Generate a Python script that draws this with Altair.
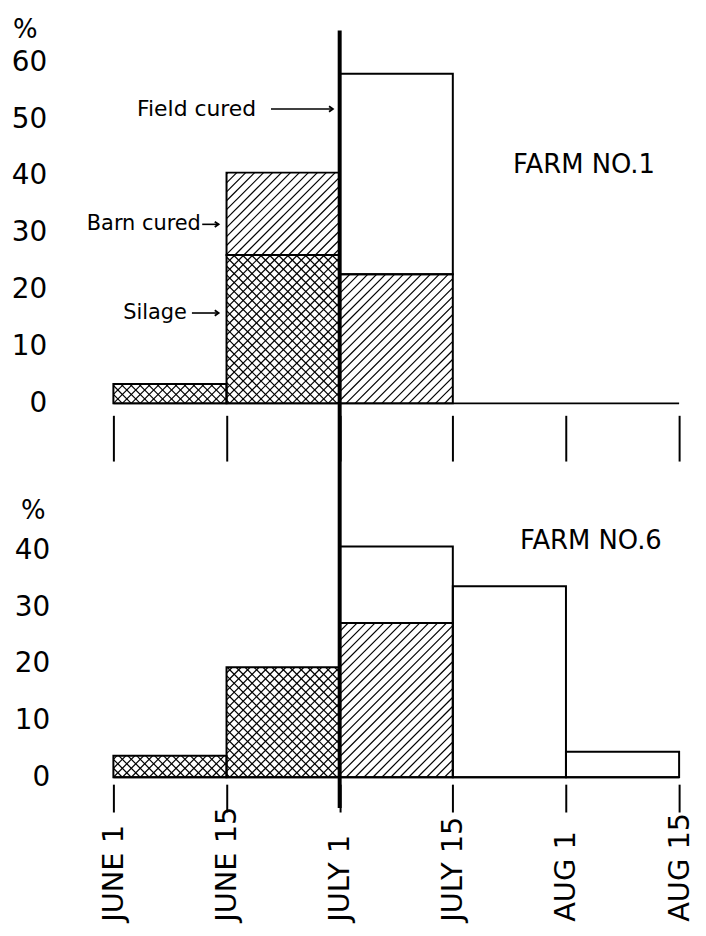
import json
import numpy as np
import pandas as pd
import altair as alt

# ---------------- data ----------------
tick_labels = ["JUNE 1", "JUNE 15", "JULY 1", "JULY 15", "AUG 1", "AUG 15"]
period_start = [0, 1, 2, 3, 4]          # tick index where each half-month period begins
categories = ["Silage", "Barn cured", "Field cured"]

farm1_silage = [3.4, 26.1, 0, 0, 0]
farm1_barn = [0, 14.5, 22.7, 0, 0]
farm1_field = [0, 0, 35.3, 0, 0]

farm6_silage = [3.8, 19.4, 0, 0, 0]
farm6_barn = [0, 0, 27.2, 0, 0]
farm6_field = [0, 0, 13.5, 33.7, 4.5]

farm_titles = ["FARM NO.1", "FARM NO.6"]

# ---------------- layout / style ----------------
W = 569
H1, H6 = 343, 228
YMAX1, YMAX6 = 60, 40
XMAX = len(tick_labels) - 1
FONT = "DejaVu Sans"
JULY1 = tick_labels.index("JULY 1")


def segments(sil, barn, field):
    rows = []
    for i, s in enumerate(period_start):
        lo = 0.0
        for cat, vals in zip(categories, [sil, barn, field]):
            v = vals[i]
            if v > 0:
                rows.append(dict(x0=s, x1=s + 1, lo=lo, hi=lo + v, cat=cat))
                lo += v
    return pd.DataFrame(rows)


def hatch(seg, ymax, h, spacing=9.0):
    """Hatch lines (fill pattern) for the silage (cross) and barn-cured (diagonal) blocks."""
    sx = W / XMAX
    sy = h / ymax
    rows = []
    for r in seg.itertuples():
        X0, X1 = r.x0 * sx, r.x1 * sx
        Y0, Y1 = r.lo * sy, r.hi * sy
        if r.cat == "Silage":
            dirs = [1, -1]
        elif r.cat == "Barn cured":
            dirs = [1]
        else:
            dirs = []
        for d in dirs:
            if d == 1:  # y = x + c
                cmin, cmax = Y0 - X1, Y1 - X0
                c = np.ceil(cmin / spacing) * spacing
                while c <= cmax:
                    xa = max(X0, Y0 - c)
                    xb = min(X1, Y1 - c)
                    if xb - xa > 0.7:
                        rows.append(dict(hx0=xa / sx, hy0=(xa + c) / sy,
                                         hx1=xb / sx, hy1=(xb + c) / sy))
                    c += spacing
            else:  # y = -x + c
                cmin, cmax = X0 + Y0, X1 + Y1
                c = np.ceil(cmin / spacing) * spacing
                while c <= cmax:
                    xa = max(X0, c - Y1)
                    xb = min(X1, c - Y0)
                    if xb - xa > 0.7:
                        rows.append(dict(hx0=xa / sx, hy0=(c - xa) / sy,
                                         hx1=xb / sx, hy1=(c - xb) / sy))
                    c += spacing
    return pd.DataFrame(rows)


def panel(seg, ymax, h, x_axis, y_title_x, y_title_y, y_label_pad,
          labels_df, arrows_df, rule_top, rule_bottom):
    xs = alt.Scale(domain=[0, XMAX], nice=False, zero=False)
    ys = alt.Scale(domain=[0, ymax], nice=False)
    y_axis = alt.Axis(values=list(range(0, ymax + 1, 10)), title="%", titleAngle=0,
                      titleX=y_title_x, titleY=y_title_y, titleAlign="center",
                      titleBaseline="middle", titleFont=FONT, titleFontSize=26,
                      titleFontWeight="normal", titleColor="black",
                      labelFont=FONT, labelFontSize=28, labelColor="black",
                      labelPadding=y_label_pad, ticks=False, domain=False, grid=False)

    def X(f):
        return alt.X(f, scale=xs, axis=x_axis)

    def Y(f):
        return alt.Y(f, scale=ys, axis=y_axis)

    fill = alt.Chart(seg).mark_rect(fill="white").encode(
        x=X("x0:Q"), x2="x1:Q", y=Y("lo:Q"), y2="hi:Q")

    hdf = hatch(seg, ymax, h)
    hatching = alt.Chart(hdf).mark_rule(color="black", strokeWidth=1.2).encode(
        x=X("hx0:Q"), x2="hx1:Q", y=Y("hy0:Q"), y2="hy1:Q")

    outline = alt.Chart(seg).mark_rect(fill="white", fillOpacity=0, stroke="black",
                                       strokeWidth=2).encode(
        x=X("x0:Q"), x2="x1:Q", y=Y("lo:Q"), y2="hi:Q")

    base_df = pd.DataFrame({"x0": [0], "x1": [XMAX], "lo": [0]})
    baseline = alt.Chart(base_df).mark_rule(color="black", strokeWidth=2).encode(
        x=X("x0:Q"), x2="x1:Q", y=Y("lo:Q"))

    vline = alt.Chart(pd.DataFrame({"x0": [JULY1]})).mark_rule(
        color="black", strokeWidth=4).encode(
        x=X("x0:Q"), y=alt.value(rule_top), y2=alt.value(rule_bottom))

    layers = [fill, hatching, outline, baseline, vline]

    for (size, align), grp in labels_df.groupby(["size", "align"]):
        layers.append(alt.Chart(grp).mark_text(font=FONT, fontSize=int(size), align=align,
                                               baseline="middle", color="black").encode(
            x=X("x:Q"), y=Y("y:Q"), text="text:N"))

    if len(arrows_df):
        layers.append(alt.Chart(arrows_df).mark_rule(color="black", strokeWidth=1.6).encode(
            x=X("ax0:Q"), x2="ax1:Q", y=Y("ay:Q")))
        layers.append(alt.Chart(arrows_df).mark_point(
            shape="M-1,-0.7L0,0L-1,0.7", filled=False, color="black",
            strokeWidth=1.8, size=60, opacity=1).encode(
            x=X("ax1:Q"), y=Y("ay:Q")))

    return alt.layer(*layers).properties(width=W, height=h)


seg1 = segments(farm1_silage, farm1_barn, farm1_field)
seg6 = segments(farm6_silage, farm6_barn, farm6_field)

labels1 = pd.DataFrame([
    dict(x=1.262, y=51.8, text="Field cured", size=22, align="right"),
    dict(x=0.773, y=31.5, text="Barn cured", size=21, align="right"),
    dict(x=0.65, y=15.9, text="Silage", size=21, align="right"),
    dict(x=4.16, y=42.0, text=farm_titles[0], size=26, align="center"),
])
arrows1 = pd.DataFrame([
    dict(ax0=1.393, ax1=1.94, ay=51.8),
    dict(ax0=0.785, ax1=0.93, ay=31.5),
    dict(ax0=0.694, ax1=0.93, ay=15.9),
])
labels6 = pd.DataFrame([
    dict(x=4.22, y=41.6, text=farm_titles[1], size=26, align="center"),
])
arrows6 = pd.DataFrame(columns=["ax0", "ax1", "ay"])

x_axis_top = alt.Axis(values=list(range(XMAX + 1)), labels=False, ticks=True,
                      tickSize=46, tickWidth=2, tickColor="black", offset=12,
                      domain=False, grid=False, title=None)
x_axis_bottom = alt.Axis(values=list(range(XMAX + 1)),
                         labelExpr=f"{json.dumps(tick_labels)}[datum.value]",
                         labelAngle=270, labelAlign="left", labelBaseline="middle",
                         labelPadding=110, labelFont=FONT, labelFontSize=29,
                         labelColor="black", labelOverlap=False,
                         tickSize=28, tickWidth=2, tickColor="black", offset=7,
                         domain=False, grid=False, title=None)

top = panel(seg1, YMAX1, H1, x_axis_top, -89, -33, 67, labels1, arrows1, -32, 420)
bottom = panel(seg6, YMAX6, H6, x_axis_bottom, -81, -40, 64, labels6, arrows6, -71, 259)

chart = alt.vconcat(top, bottom, spacing=148, bounds="flush").resolve_scale(
    x="independent", y="independent"
).properties(
    padding={"left": 3, "top": 6, "right": 4, "bottom": 6},
    background="white",
).configure_view(stroke=None)

chart.save("out.html", embed_options={"renderer": "svg", "actions": False})
